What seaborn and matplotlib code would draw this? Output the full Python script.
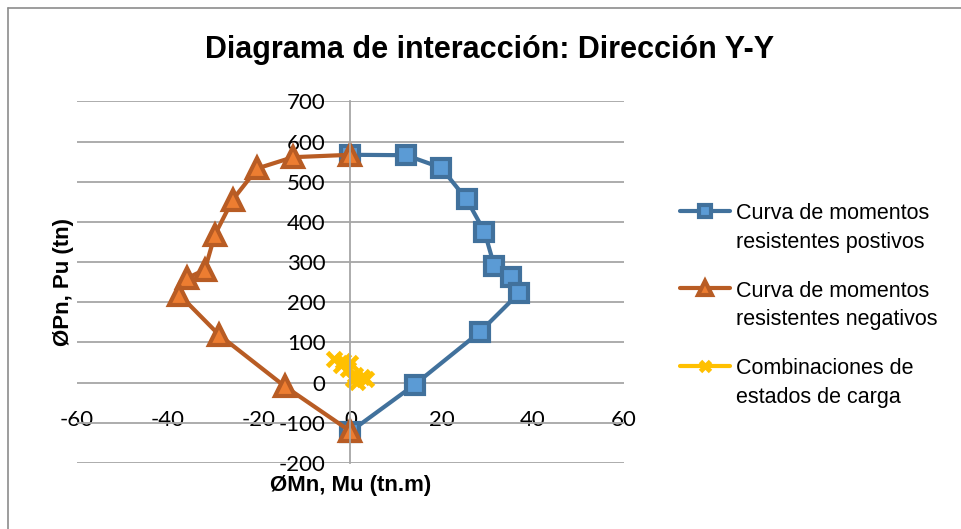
import matplotlib
matplotlib.use("Agg")
import matplotlib.pyplot as plt
from matplotlib.lines import Line2D
from matplotlib import font_manager
import seaborn as sns

# Datos del diagrama de interacción
pos_m = [0, 12.2, 19.9, 25.5, 29.4, 31.6, 35.2, 37.0, 28.5, 14.1, 0]
pos_p = [567, 566, 535, 456, 376, 289, 264, 223, 127, -5, -122]

neg_m = [0, -12.6, -20.4, -25.8, -29.7, -31.9, -35.8, -37.5, -28.8, -14.4, 0]
neg_p = [567, 561, 533, 455, 368, 281, 260, 219, 119, -9, -121]

comb_m = [-3.5, -1.5, 0.0, -2.0, -0.5, 1.0, 2.5, 0.5, 3.5, 1.5]
comb_p = [58, 55, 50, 45, 35, 20, 15, 8, 8, 2]

x_ticks = [-60, -40, -20, 0, 20, 40, 60]
y_ticks = [-200, -100, 0, 100, 200, 300, 400, 500, 600, 700]

labels = ["Curva de momentos\nresistentes postivos",
          "Curva de momentos\nresistentes negativos",
          "Combinaciones de\nestados de carga"]

sns.set_style("white")
plt.rcParams["font.family"] = ["Liberation Sans", "DejaVu Sans"]
plt.rcParams["axes.unicode_minus"] = False
plt.rcParams["text.color"] = "black"
plt.rcParams["axes.labelcolor"] = "black"

installed = {f.name for f in font_manager.fontManager.ttflist}
if "Liberation Sans Narrow" in installed:
    title_font, title_size = "Liberation Sans Narrow", 26.5
else:
    title_font, title_size = "Liberation Sans", 22

fig = plt.figure(figsize=(9.61, 5.29), dpi=100)
ax = fig.add_axes([0.0798, 0.1248, 0.5695, 0.6836])

grid_col = "#a6a6a6"
blue_line, blue_face = "#41719c", "#5b9bd5"
orange_line, orange_face = "#b85c24", "#ed7d31"
yellow = "#ffc000"

sns.lineplot(x=pos_m, y=pos_p, sort=False, estimator=None, ax=ax, color=blue_line, lw=3,
             marker="s", markersize=13, markerfacecolor=blue_face,
             markeredgecolor=blue_line, markeredgewidth=3, label=labels[0])
sns.lineplot(x=neg_m, y=neg_p, sort=False, estimator=None, ax=ax, color=orange_line, lw=3,
             marker="^", markersize=14, markerfacecolor=orange_face,
             markeredgecolor=orange_line, markeredgewidth=3, label=labels[1])
sns.lineplot(x=comb_m, y=comb_p, sort=False, estimator=None, ax=ax, color=yellow, lw=3,
             marker="x", markersize=10.5, markeredgecolor=yellow,
             markeredgewidth=3.5, label=labels[2])

ax.set_xlim(-60, 60)
ax.set_ylim(-200, 700)
ax.set_xticks(x_ticks)
ax.set_yticks(y_ticks)

ax.grid(axis="y", color=grid_col, lw=1.3)
ax.grid(axis="x", visible=False)
ax.set_axisbelow(True)

for s in ["top", "right"]:
    ax.spines[s].set_visible(False)
ax.spines["left"].set_position(("data", 0))
ax.spines["left"].set_color(grid_col)
ax.spines["left"].set_linewidth(1.3)
ax.spines["bottom"].set_position(("data", 0))
ax.spines["bottom"].set_visible(False)

ax.tick_params(axis="both", length=0, labelsize=16, labelcolor="black")
ax.tick_params(axis="y", pad=18)
ax.tick_params(axis="x", pad=19.5)
for lab in ax.get_xticklabels() + ax.get_yticklabels():
    lab.set_fontfamily(["Lato", "DejaVu Sans"])

ax.set_xlabel("ØMn, Mu (tn.m)", fontsize=16, fontweight="bold")
ax.set_ylabel("ØPn, Pu (tn)", fontsize=16, fontweight="bold")
ax.xaxis.set_label_coords(0.5, -0.032)
ax.yaxis.set_label_coords(-0.004, 0.5)

fig.text(490 / 961, 1 - 58 / 529, "Diagrama de interacción: Dirección Y-Y",
         ha="center", va="baseline", fontsize=title_size, fontweight="bold",
         family=[title_font, "DejaVu Sans"])

handles, labs = ax.get_legend_handles_labels()
leg = ax.legend(handles, labs, loc="upper left", bbox_to_anchor=(680 / 961, 1 - 203 / 529),
                bbox_transform=fig.transFigure, frameon=False, fontsize=15.5,
                borderpad=0, borderaxespad=0, handlelength=2.3, handletextpad=0.3,
                labelspacing=1.3, markerscale=0.7)
for t in leg.get_texts():
    t.set_linespacing(1.47)
    t.set_color("black")
# el símbolo se alinea con la primera línea del texto
for row in leg._legend_handle_box.get_children():
    for hp in row.get_children():
        hp.align = "top"

# marco del área del gráfico
fig.add_artist(Line2D([8 / 961, 8 / 961], [0, 1 - 8 / 529], transform=fig.transFigure,
                      color="#8c8c8c", lw=1.2))
fig.add_artist(Line2D([8 / 961, 1], [1 - 8 / 529, 1 - 8 / 529], transform=fig.transFigure,
                      color="#8c8c8c", lw=1.2))

fig.savefig("out.png", dpi=100)
